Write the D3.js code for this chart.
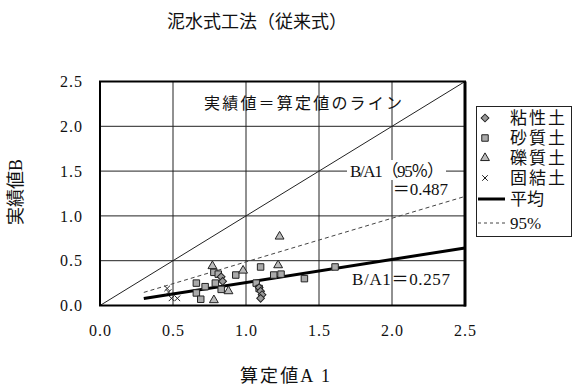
<!DOCTYPE html>
<html>
<head>
<meta charset="utf-8">
<script src="https://cdn.jsdelivr.net/npm/d3@7"></script>
<style>
  html, body { margin: 0; padding: 0; background: #fff; }
  svg text { font-family: "Liberation Serif", "Noto Sans CJK JP", serif; fill: #111; }
</style>
</head>
<body>
<svg id="chart" width="573" height="388"></svg>
<script>
// Observed (B) vs computed (A1) values by soil type
const clay = [[0.83,0.32],[0.84,0.27],[1.09,0.20],[1.10,0.16],[1.11,0.12],[1.10,0.08]];
const sand = [[0.66,0.25],[0.72,0.21],[0.66,0.14],[0.69,0.07],[0.78,0.37],[0.81,0.35],
              [0.79,0.25],[0.83,0.18],[0.93,0.34],[1.07,0.25],[1.09,0.19],[1.10,0.43],
              [1.19,0.34],[1.24,0.35],[1.40,0.30],[1.61,0.43]];
const gravel = [[0.77,0.44],[0.98,0.39],[0.88,0.16],[0.78,0.06],[1.23,0.77],[1.22,0.45]];
const cemented = [[0.46,0.19],[0.47,0.15],[0.49,0.08],[0.53,0.08]];

const meanRatio = 0.257;
const p95Ratio = 0.487;
const fitRange = [0.3, 2.5];

const xTicks = [0, 0.5, 1.0, 1.5, 2.0, 2.5];
const yTicks = [0, 0.5, 1.0, 1.5, 2.0, 2.5];

const svg = d3.select("#chart");
const L = 100, R = 465, T = 81.5, B = 305.5;
const x = d3.scaleLinear().domain([0, 2.5]).range([L, R]);
const y = d3.scaleLinear().domain([0, 2.5]).range([B, T]);

// Title
svg.append("text").attr("x", 167).attr("y", 28)
  .style("font-size", "18px").attr("textLength", 180).text("泥水式工法（従来式）");

// Grid
const grid = svg.append("g");
grid.selectAll(".gx").data(xTicks.slice(1, -1)).join("line")
  .attr("x1", d => x(d)).attr("x2", d => x(d)).attr("y1", T).attr("y2", B)
  .attr("stroke", "#222").attr("stroke-width", 1);
grid.selectAll(".gy").data(yTicks.slice(1, -1)).join("line")
  .attr("x1", L).attr("x2", R).attr("y1", d => y(d)).attr("y2", d => y(d))
  .attr("stroke", "#222").attr("stroke-width", 1);

// Tick labels through d3 axes (tick lines hidden)
const xAxis = svg.append("g").attr("transform", `translate(0,${B})`)
  .call(d3.axisBottom(x).tickValues(xTicks).tickFormat(d3.format(".1f")).tickSize(0).tickPadding(19));
const yAxis = svg.append("g").attr("transform", `translate(${L},0)`)
  .call(d3.axisLeft(y).tickValues(yTicks).tickFormat(d3.format(".1f")).tickSize(0).tickPadding(17));
[xAxis, yAxis].forEach(a => {
  a.select(".domain").remove();
  a.selectAll("text").style("font-size", "16px").style("font-family", "Liberation Serif, serif")
    .attr("fill", "#111").attr("letter-spacing", "1px");
});

svg.append("text").attr("x", 240).attr("y", 382)
  .style("font-size", "18px").attr("textLength", 90).text("算定値A 1");
svg.append("text").attr("transform", "translate(22,192) rotate(-90)").attr("text-anchor", "middle")
  .style("font-size", "18px").text("実績値B");

// Reference line B = A1
svg.append("line").attr("x1", x(0)).attr("y1", y(0)).attr("x2", x(2.5)).attr("y2", y(2.5))
  .attr("stroke", "#222").attr("stroke-width", 1);

// 95% line and mean line
svg.append("line").attr("x1", x(fitRange[0])).attr("y1", y(fitRange[0] * p95Ratio))
  .attr("x2", x(fitRange[1])).attr("y2", y(fitRange[1] * p95Ratio))
  .attr("stroke", "#444").attr("stroke-width", 1).attr("stroke-dasharray", "4,3");
svg.append("line").attr("x1", x(fitRange[0])).attr("y1", y(fitRange[0] * meanRatio))
  .attr("x2", x(fitRange[1])).attr("y2", y(fitRange[1] * meanRatio))
  .attr("stroke", "#000").attr("stroke-width", 3);

// Markers
const symPath = {
  square: d3.symbol().type(d3.symbolSquare).size(42)(),
  triangle: d3.symbol().type(d3.symbolTriangle).size(34)(),
  diamond: d3.symbol().type(d3.symbolSquare).size(30)(),
  cross: d3.symbol().type(d3.symbolX).size(22)()
};
function drawPoints(data, kind, fill) {
  svg.append("g").selectAll("path").data(data).join("path")
    .attr("transform", d => `translate(${x(d[0])},${y(d[1])})` + (kind === "diamond" ? " rotate(45)" : ""))
    .attr("d", symPath[kind]).attr("fill", fill).attr("stroke", "#222").attr("stroke-width", 1);
}
drawPoints(sand, "square", "#aaa");
drawPoints(gravel, "triangle", "#bbb");
drawPoints(clay, "diamond", "#999");
drawPoints(cemented, "cross", "none");

// Annotations
svg.append("text").attr("x", 204).attr("y", 109).style("font-size", "16px")
  .attr("textLength", 198).text("実績値＝算定値のライン");

const lab = svg.append("g");
lab.append("rect").attr("x", 347).attr("y", 160).attr("width", 99).attr("height", 20).attr("fill", "#fff");
lab.append("text").attr("x", 350).attr("y", 177).style("font-size", "17px")
  .attr("textLength", 94).text("B/A1（95％）");
lab.append("text").attr("x", 448).attr("y", 195).attr("text-anchor", "end").style("font-size", "17px")
  .text("＝" + p95Ratio.toFixed(3));
svg.append("text").attr("x", 352).attr("y", 285).style("font-size", "17px")
  .attr("textLength", 98).text("B/A1＝" + meanRatio.toFixed(3));

// Plot frame
svg.append("rect").attr("x", L).attr("y", T).attr("width", R - L).attr("height", B - T)
  .attr("fill", "none").attr("stroke", "#000").attr("stroke-width", 2);
svg.append("line").attr("x1", R).attr("x2", R).attr("y1", T).attr("y2", B + 1)
  .attr("stroke", "#000").attr("stroke-width", 3);

// Legend
const leg = svg.append("g");
leg.append("rect").attr("x", 476.5).attr("y", 106.5).attr("width", 95).attr("height", 130)
  .attr("fill", "#fff").attr("stroke", "#222").attr("stroke-width", 1);
const legItems = [
  { label: "粘性土", kind: "diamond", fill: "#999" },
  { label: "砂質土", kind: "square", fill: "#aaa" },
  { label: "礫質土", kind: "triangle", fill: "#bbb" },
  { label: "固結土", kind: "cross", fill: "none" }
];
legItems.forEach((it, i) => {
  const cy = 118 + i * 20;
  leg.append("path")
    .attr("transform", `translate(485,${cy})` + (it.kind === "diamond" ? " rotate(45)" : ""))
    .attr("d", symPath[it.kind]).attr("fill", it.fill).attr("stroke", "#222").attr("stroke-width", 1);
  leg.append("text").attr("x", 510).attr("y", cy + 6).style("font-size", "17px")
    .attr("textLength", 55).text(it.label);
});
leg.append("line").attr("x1", 478).attr("x2", 505).attr("y1", 199).attr("y2", 199)
  .attr("stroke", "#000").attr("stroke-width", 3);
leg.append("text").attr("x", 510).attr("y", 205).style("font-size", "17px").text("平均");
leg.append("line").attr("x1", 478).attr("x2", 505).attr("y1", 223).attr("y2", 223)
  .attr("stroke", "#444").attr("stroke-width", 1).attr("stroke-dasharray", "3,3");
leg.append("text").attr("x", 510).attr("y", 229).style("font-size", "17px").text("95%");
</script>
</body>
</html>
